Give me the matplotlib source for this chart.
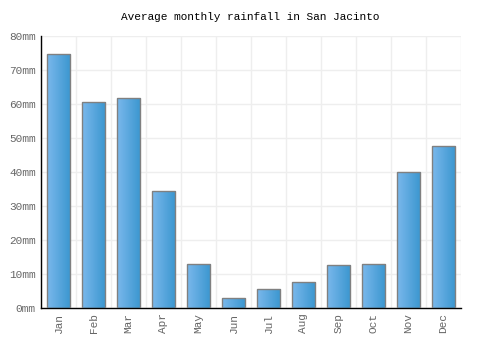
import numpy as np
import matplotlib
matplotlib.use("Agg")
import matplotlib.pyplot as plt

# data
months = ["Jan", "Feb", "Mar", "Apr", "May", "Jun", "Jul", "Aug", "Sep", "Oct", "Nov", "Dec"]
rainfall = [74.7, 60.6, 61.8, 34.4, 12.9, 2.9, 5.6, 7.6, 12.6, 12.9, 40.0, 47.6]
y_ticks = [0, 10, 20, 30, 40, 50, 60, 70, 80]

plt.rcParams['font.family'] = ['Liberation Mono', 'DejaVu Sans Mono']

fig = plt.figure(figsize=(5, 3.5), dpi=100)
ax = fig.add_axes([0.082, 0.12, 0.84, 0.777])

x = np.arange(len(months))
bars = ax.bar(x, rainfall, width=0.68, facecolor='none', edgecolor='#808080',
              linewidth=1.0, zorder=3)

# horizontal gradient inside each bar, lighter on the left
grad = np.linspace(0, 1, 64).reshape(1, -1)
cmap = matplotlib.colors.LinearSegmentedColormap.from_list('bar', ['#7ab8ec', '#3a96cf'])
for b in bars:
    x0, w, h = b.get_x(), b.get_width(), b.get_height()
    im = ax.imshow(grad, cmap=cmap, aspect='auto', extent=[x0, x0 + w, 0, h],
                   zorder=2, interpolation='bilinear')
    im.set_clip_path(b)

ax.set_xlim(-0.5, len(months) - 0.5)
ax.set_ylim(0, 80)
ax.set_yticks(y_ticks)
ax.set_yticklabels([f"{v}mm" for v in y_ticks])
ax.set_xticks(x)
ax.set_xticklabels(months, rotation=90)

# grid lines at category boundaries
ax.set_xticks(np.arange(-0.5, len(months), 1), minor=True)
ax.grid(True, which='minor', axis='x', color='#eeeeee', linewidth=1, zorder=0)
ax.grid(True, which='major', axis='y', color='#eeeeee', linewidth=1, zorder=0)
ax.tick_params(axis='both', which='both', length=0, labelsize=8, colors='#666666', pad=4)

for s in ['top', 'right']:
    ax.spines[s].set_visible(False)
for s in ['left', 'bottom']:
    ax.spines[s].set_color('black')
    ax.spines[s].set_linewidth(1)

fig.suptitle("Average monthly rainfall in San Jacinto", y=0.965, fontsize=8, color='black')

fig.savefig("out.png", dpi=100, facecolor='white')
